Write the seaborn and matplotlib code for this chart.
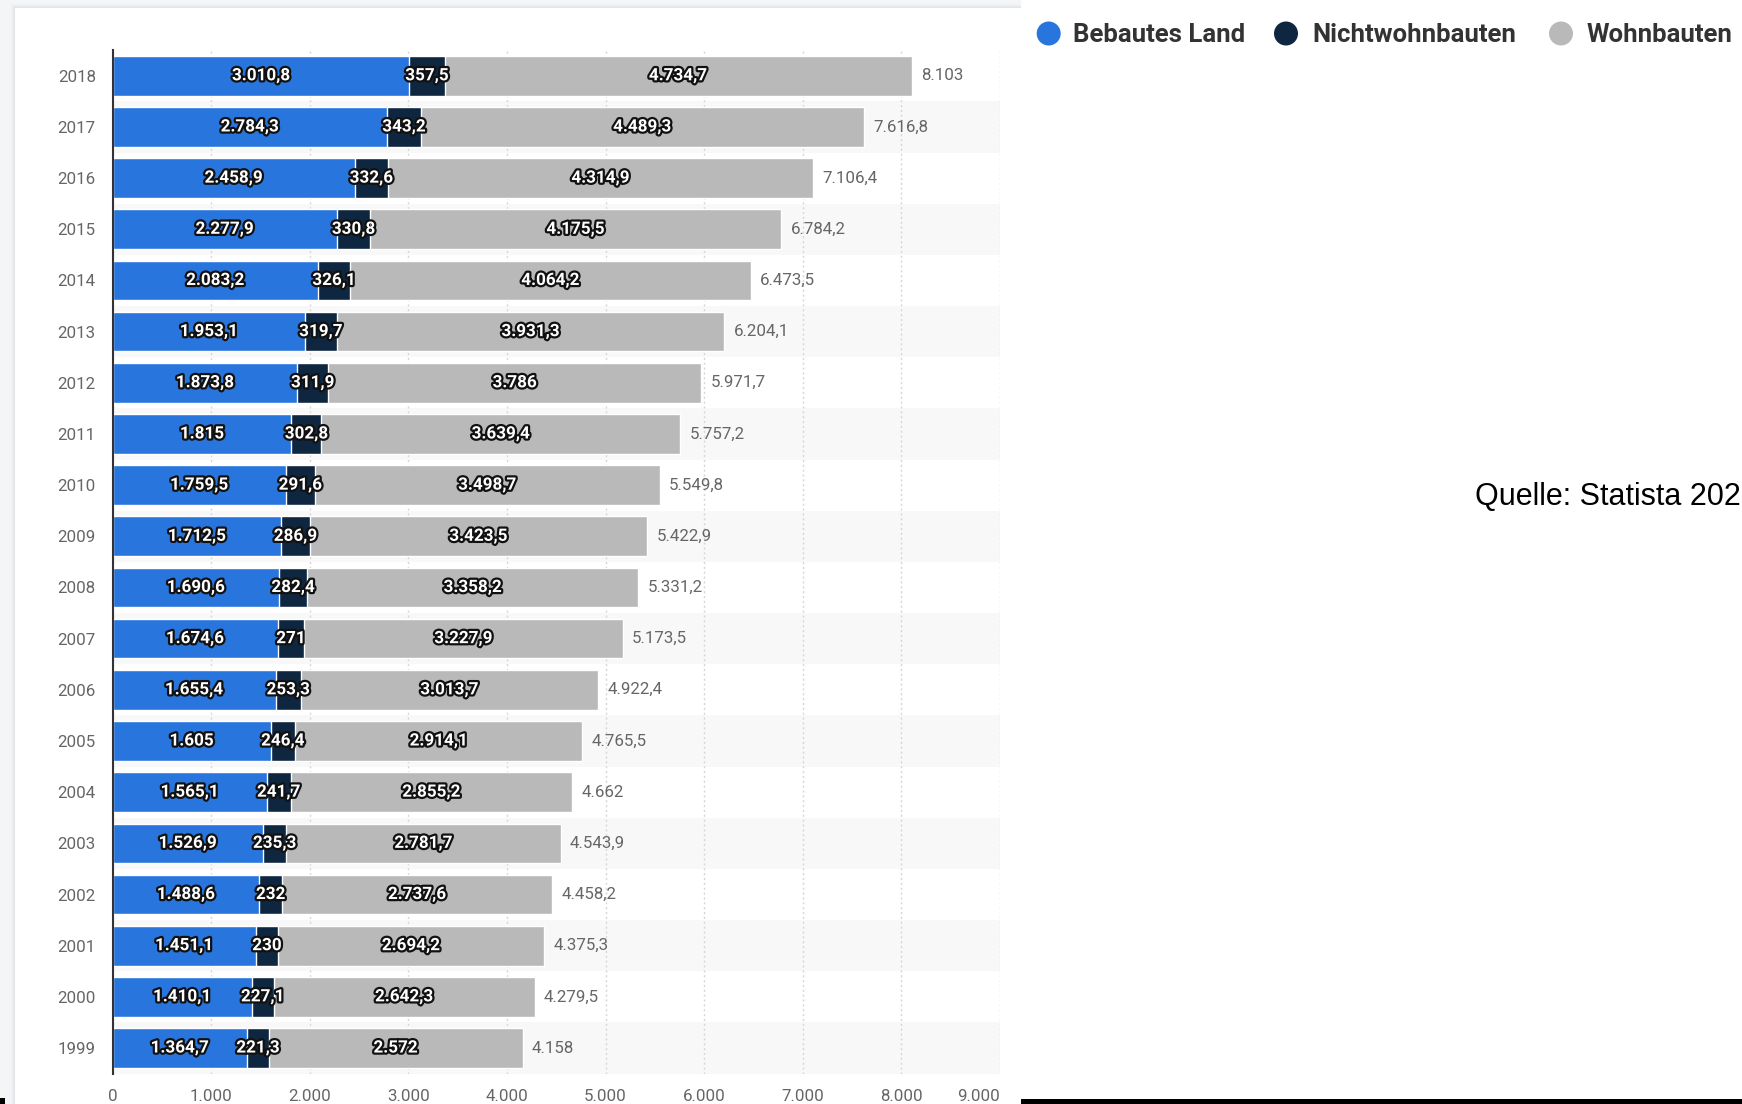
import matplotlib
matplotlib.use("Agg")
import matplotlib.pyplot as plt
import seaborn as sns
import pandas as pd
from matplotlib import patheffects as pe
from matplotlib.patches import Rectangle, Circle

# Land- und Gebäudewerte je Jahr (Mrd. Euro)
years = ["2018", "2017", "2016", "2015", "2014", "2013", "2012", "2011", "2010", "2009",
         "2008", "2007", "2006", "2005", "2004", "2003", "2002", "2001", "2000", "1999"]
bebautes_land = [3010.8, 2784.3, 2458.9, 2277.9, 2083.2, 1953.1, 1873.8, 1815.0, 1759.5, 1712.5,
                 1690.6, 1674.6, 1655.4, 1605.0, 1565.1, 1526.9, 1488.6, 1451.1, 1410.1, 1364.7]
nichtwohnbauten = [357.5, 343.2, 332.6, 330.8, 326.1, 319.7, 311.9, 302.8, 291.6, 286.9,
                   282.4, 271.0, 253.3, 246.4, 241.7, 235.3, 232.0, 230.0, 227.1, 221.3]
wohnbauten = [4734.7, 4489.3, 4314.9, 4175.5, 4064.2, 3931.3, 3786.0, 3639.4, 3498.7, 3423.5,
              3358.2, 3227.9, 3013.7, 2914.1, 2855.2, 2781.7, 2737.6, 2694.2, 2642.3, 2572.0]
series_names = ["Bebautes Land", "Nichtwohnbauten", "Wohnbauten"]
x_ticks = [0, 1000, 2000, 3000, 4000, 5000, 6000, 7000, 8000, 9000]
source_text = "Quelle: Statista 2020"

BLUE = "#2876DD"
NAVY = "#0E2640"
GREY = "#B9B9B9"
BAND = "#F8F8F8"
TEXT = "#666666"


def de_fmt(v):
    v = round(v, 1)
    if abs(v - round(v)) < 1e-9:
        s = f"{int(round(v)):,}"
    else:
        s = f"{v:,.1f}"
    return s.replace(",", "X").replace(".", ",").replace("X", ".")


df = pd.DataFrame({
    "year": years,
    "land": bebautes_land,
    "nwb": nichtwohnbauten,
    "wb": wohnbauten,
})
df["cum1"] = df["land"]
df["cum2"] = df["land"] + df["nwb"]
df["cum3"] = df["cum2"] + df["wb"]

sns.set_theme(style="white")
plt.rcParams["font.family"] = ["Roboto", "DejaVu Sans"]

W, H = 1742, 1104
fig = plt.figure(figsize=(W / 100, H / 100), dpi=100)
fig.patch.set_facecolor("white")

# pixel-space layer for page background, legend and source note
bg = fig.add_axes([0, 0, 1, 1], zorder=0)
bg.set_xlim(0, W)
bg.set_ylim(H, 0)
bg.axis("off")
bg.add_patch(Rectangle((0, 0), 1021, H, color="#F4F5F7", lw=0))
for k, a in zip([4, 3, 2, 1], [0.03, 0.04, 0.05, 0.07]):
    bg.add_patch(Rectangle((15 - k, 8 - k), 1006 + k, H, color="#9AA3B0", alpha=a, lw=0))
bg.add_patch(Rectangle((15, 8), 1006, H, color="white", lw=0))
bg.add_patch(Rectangle((1021, 1098.7), W - 1021, H - 1098.7, color="black", lw=0))
bg.add_patch(Rectangle((0, 1098), 5, 6, color="black", lw=0))

legend_items = [(1048.7, 1073, BLUE), (1286, 1312, NAVY), (1561, 1587, GREY)]
for name, (cx, tx, col) in zip(series_names, legend_items):
    bg.add_patch(Circle((cx, 33.5), 12, color=col, lw=0))
    bg.text(tx, 34.5, name, fontsize=18.5, fontweight="bold", color="#333333",
            ha="left", va="center")

bg.text(1475, 505, source_text, fontsize=22, color="black", ha="left", va="baseline",
        family=["Liberation Sans", "DejaVu Sans"])

# chart area
ax = fig.add_axes([112.5 / W, 1 - 1073.6 / H, 887.5 / W, 1023.4 / H], zorder=1)
ax.set_facecolor("none")

for i in range(len(years)):
    if i % 2 == 1:
        ax.axhspan(i - 0.5, i + 0.5, color=BAND, lw=0, zorder=0)

bar_kw = dict(orient="h", width=0.775, edgecolor="white", linewidth=1,
              saturation=1, ax=ax)
sns.barplot(data=df, x="cum3", y="year", color=GREY, **bar_kw)
sns.barplot(data=df, x="cum2", y="year", color=NAVY, **bar_kw)
sns.barplot(data=df, x="cum1", y="year", color=BLUE, **bar_kw)

ax.set_xlim(0, 9000)
ax.set_ylim(len(years) - 0.5, -0.5)
ax.set_xlabel("")
ax.set_ylabel("")

ax.set_xticks(x_ticks)
ax.set_xticklabels([de_fmt(t) for t in x_ticks])
ax.get_xticklabels()[-1].set_ha("right")

ax.set_axisbelow(True)
ax.grid(axis="x", color="#D6D6D6", linestyle=(0, (1.5, 2)), linewidth=1)
ax.grid(axis="y", visible=False)

for s in ["top", "right", "bottom"]:
    ax.spines[s].set_visible(False)
ax.spines["left"].set_color("#333333")
ax.spines["left"].set_linewidth(1.5)
ax.spines["left"].set_zorder(4)

ax.tick_params(axis="both", length=0, labelsize=12.2, labelcolor=TEXT)
ax.tick_params(axis="y", pad=12)
ax.tick_params(axis="x", pad=11)

outline = [pe.withStroke(linewidth=3.2, foreground="#111111")]
for i, r in df.iterrows():
    segs = [(0, r["land"]), (r["cum1"], r["nwb"]), (r["cum2"], r["wb"])]
    for start, val in segs:
        ax.text(start + val / 2, i, de_fmt(val), ha="center", va="center",
                color="white", fontsize=12.3, fontweight="bold",
                path_effects=outline, zorder=5)
    ax.text(r["cum3"] + 96, i, de_fmt(r["cum3"]), ha="left", va="center",
            color=TEXT, fontsize=12.2, zorder=5)

fig.savefig("out.png", dpi=100)
